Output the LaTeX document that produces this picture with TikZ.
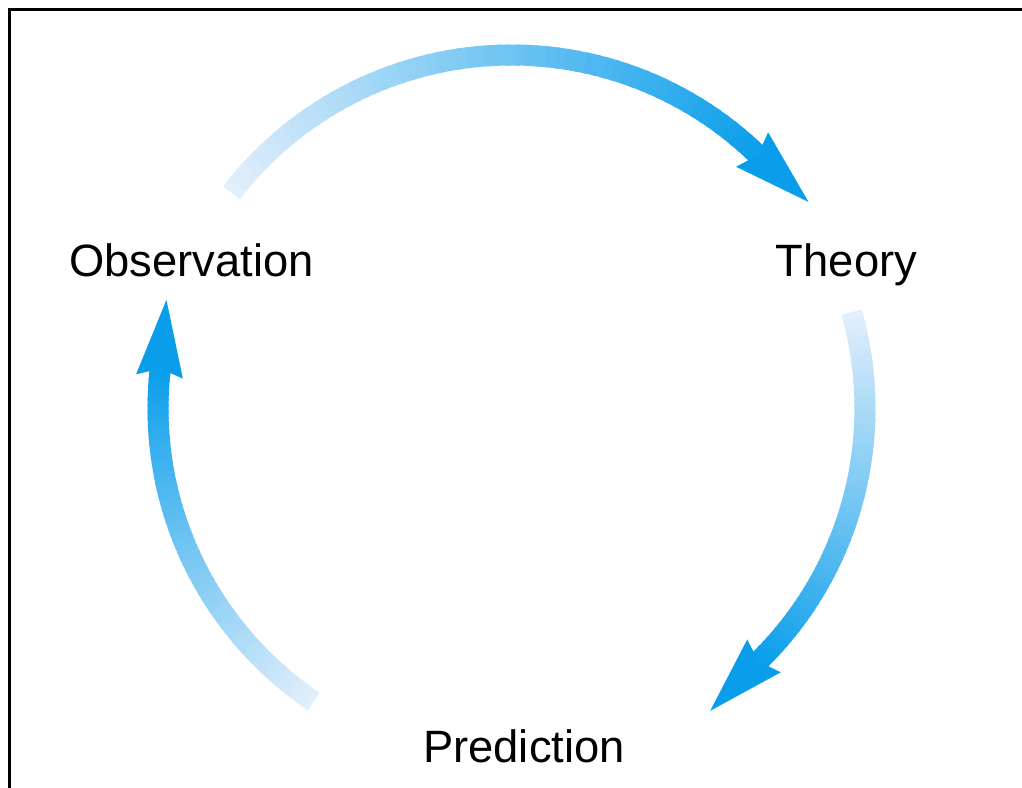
\documentclass[tikz,border=0pt]{standalone}
\usepackage{fontspec}
\setmainfont{Liberation Sans}
\usetikzlibrary{calc}
\definecolor{arclight}{RGB}{228,240,252}
\definecolor{arcblue}{RGB}{10,158,234}
\newcommand\CycR{353.5}
\newcommand\gradarrow[2]{%
  \pgfmathsetmacro\gaEnd{#2-1.3}%
  \foreach \i in {0,...,59}{%
    \pgfmathsetmacro\angA{#1+(\gaEnd-(#1))*\i/60}%
    \pgfmathsetmacro\angB{#1+(\gaEnd-(#1))*min(\i+1.4,60)/60}%
    \pgfmathtruncatemacro\pct{round(100*(\i+0.5)/60)}%
    \draw[shaft, arcblue!\pct!arclight] (\angA:\CycR) arc[start angle=\angA, end angle=\angB, radius=\CycR];
  }%
  \fill[arcblue] ($({#2}:\CycR)+({#2-90}:77)$) -- ({#2}:{\CycR+23.5}) -- ($({#2}:\CycR)+({#2-90}:8)$) -- ({#2}:{\CycR-23.5}) -- cycle;
}
\begin{document}
\begin{tikzpicture}[x=0.75pt,y=0.75pt,
  lbl/.style={font=\fontsize{34}{40}\selectfont, anchor=base, inner sep=0pt},
  shaft/.style={line width=15.75pt}]
\useasboundingbox (-511.5,-379.5) rectangle (510.5,408.5);
\draw[line width=2.25pt] (-502,-379.5) -- (-502,398.5) -- (510.5,398.5);
\node[lbl] (obs) at (-320,131.5) {Observation};
\node[lbl] (thy) at (335,131.5) {Theory};
\node[lbl] (pred) at (12.5,-354.5) {Prediction};
\gradarrow{142.4}{47.1}
\gradarrow{15.8}{-44.4}
\gradarrow{236}{174.8}
\end{tikzpicture}
\end{document}
